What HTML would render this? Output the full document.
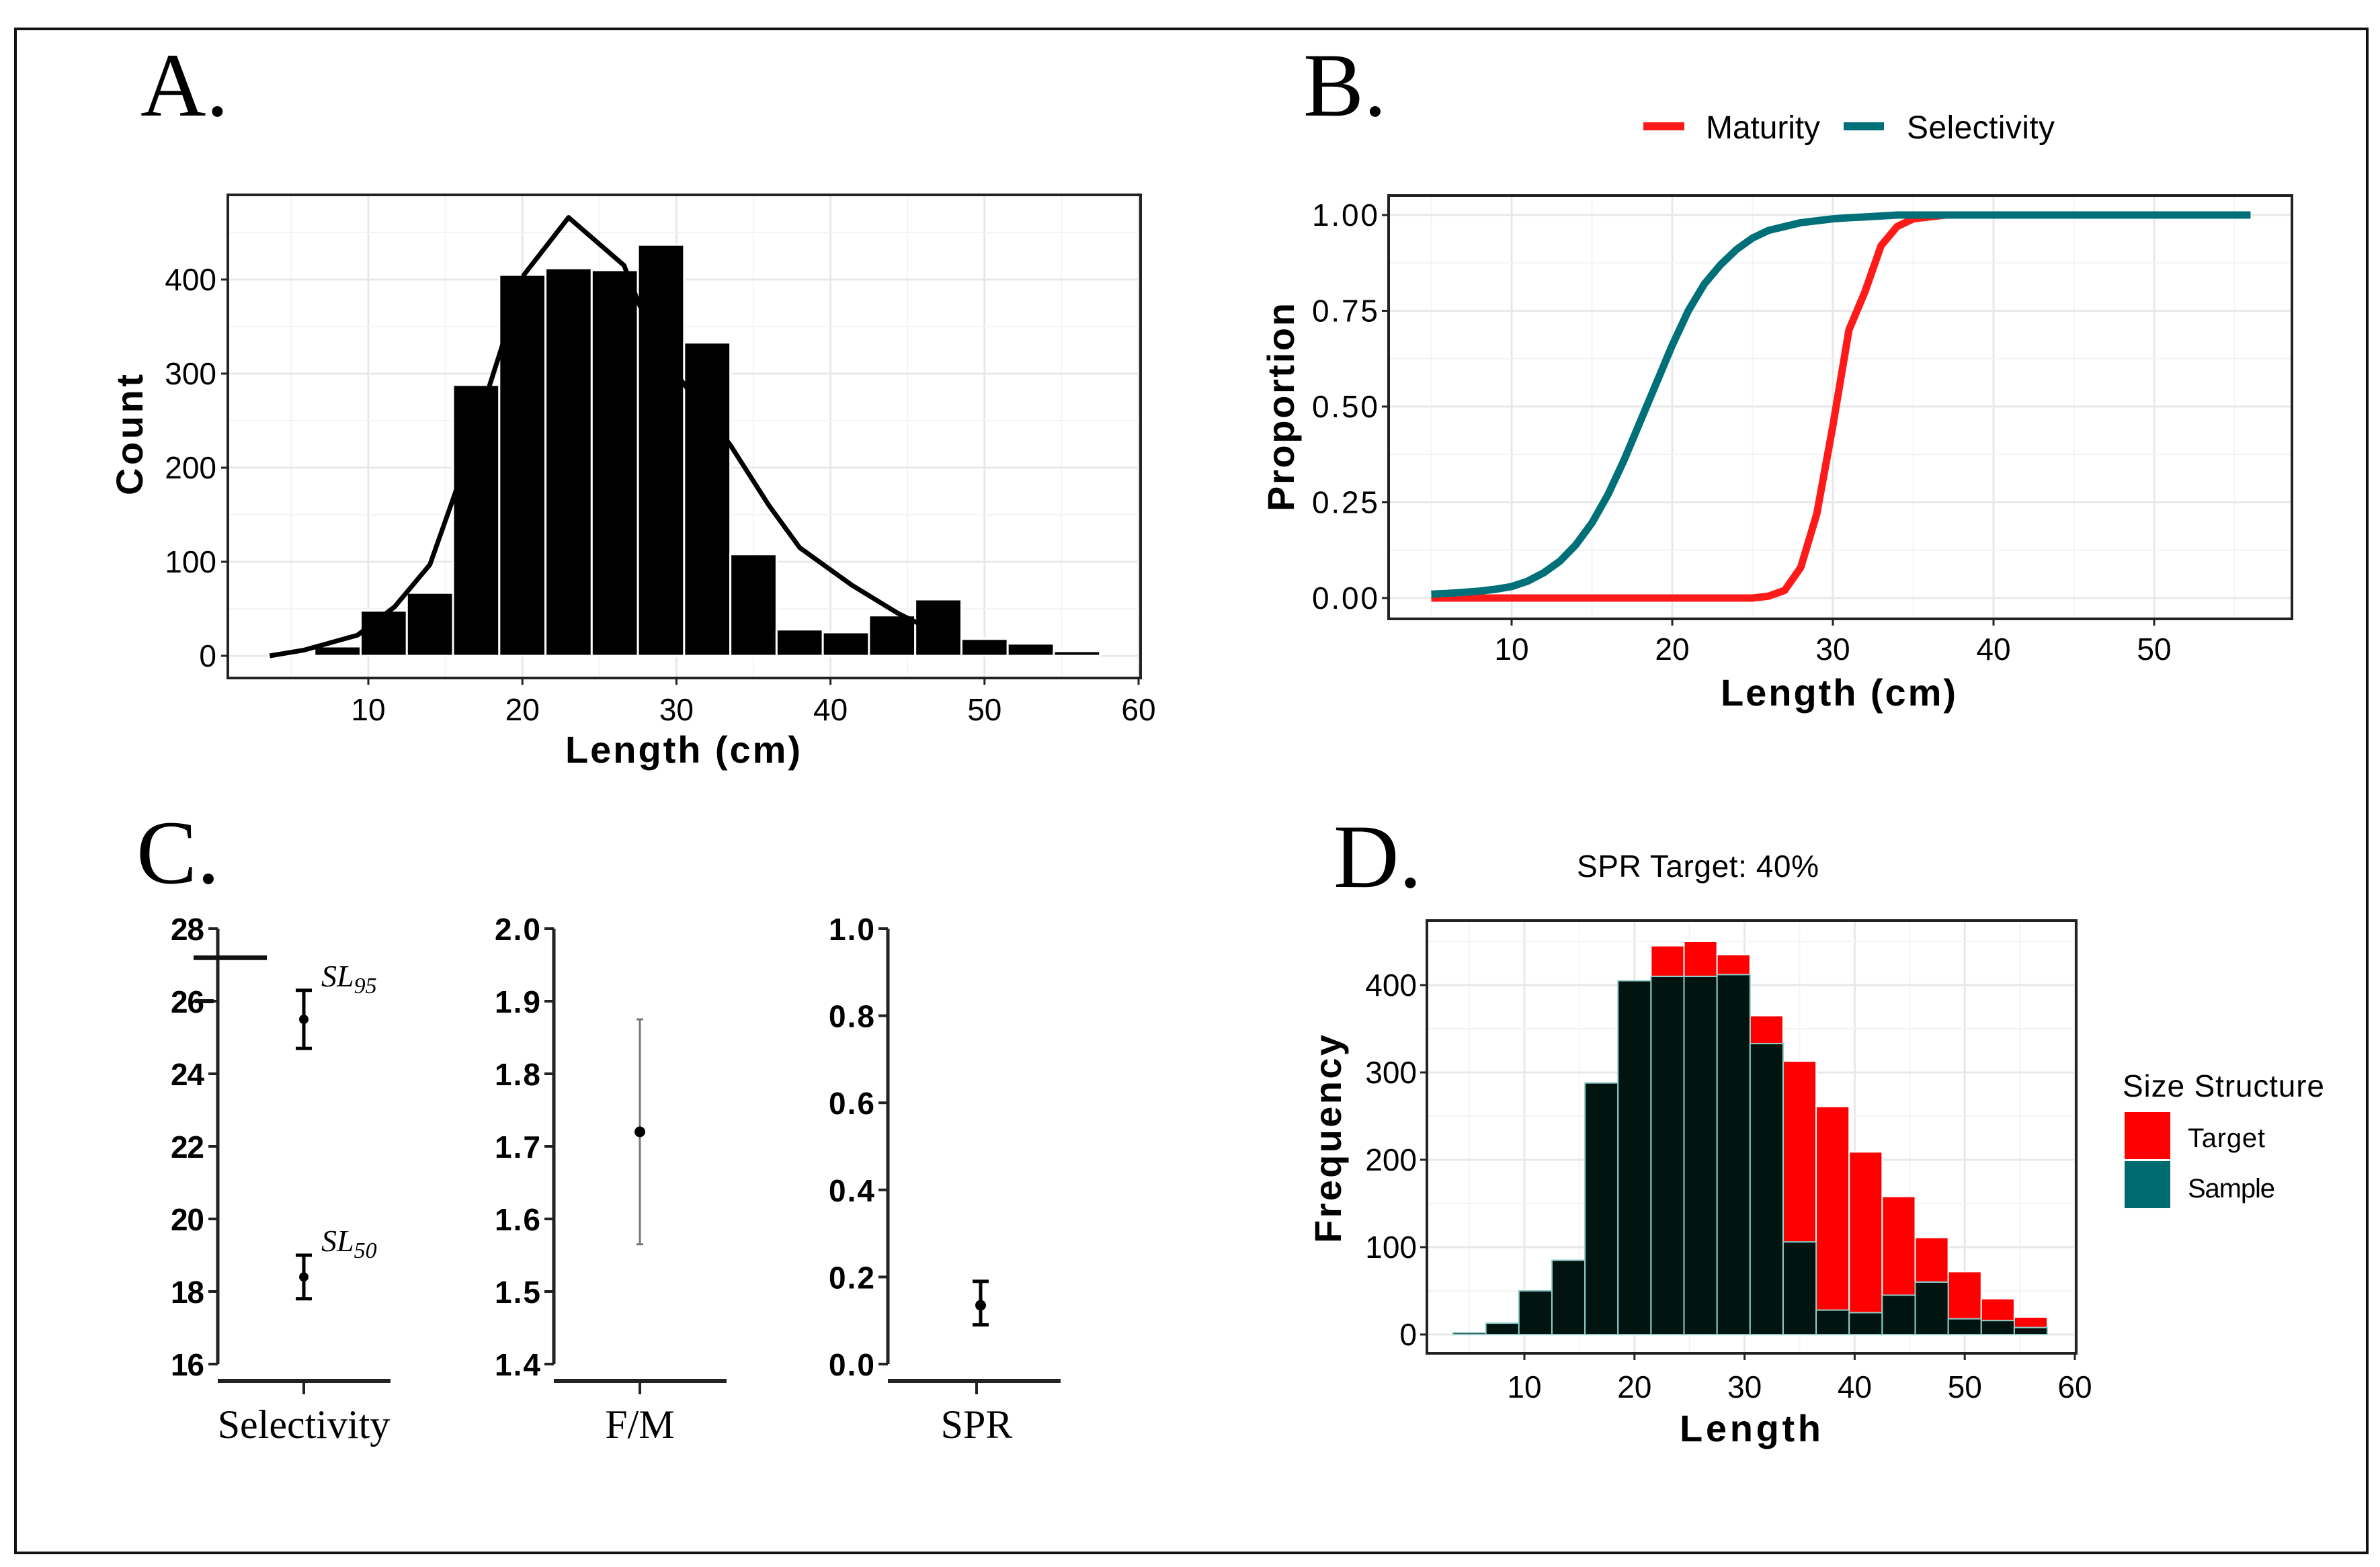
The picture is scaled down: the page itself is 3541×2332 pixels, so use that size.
<!DOCTYPE html>
<html><head><meta charset="utf-8">
<style>
html,body{margin:0;padding:0;background:#fff;}
svg{display:block;}
text{font-family:"Liberation Sans",sans-serif;}
.serif{font-family:"Liberation Serif",serif;}
</style></head>
<body>
<svg id="fig" xmlns="http://www.w3.org/2000/svg" width="3541" height="2332" viewBox="0 0 3541 2332">
<rect x="0" y="0" width="3541" height="2332" fill="#fff"/>
<rect x="23" y="43" width="3499" height="2268" fill="none" stroke="#111" stroke-width="4"/>
<g id="gA"></g>
<g id="gB"></g>
<g id="gC"></g>
<g id="gD"></g>
</svg>
<script>
// ---- Panel A data ----
const binCentersA = [5,8,11,14,17,20,23,26,29,32,35,38,41,44,47,50,53,56];
const countsA = [2,10,48,67,288,405,412,410,437,333,108,28,25,43,60,18,13,5];
const curveLenA = [3.6,5.8,9.3,11.7,14,15.7,18.7,20.1,23,26.6,27.6,30.3,33.5,36,38,41.4,44.4,45.9];
const curveValA = [0,6,22,52,97,176,330,405,466,415,373,293,224,160,115,75,45,33];
const xTicksA = [10,20,30,40,50,60];
const yTicksA = [0,100,200,300,400];
// ---- Panel B data ----
const lenSel = [5,6,7,8,9,10,11,12,13,14,15,16,17,18,19,20,21,22,23,24,25,26,27,28,29,30,31,32,34,40,45,50,56];
const valSel = [0.01,0.012,0.015,0.018,0.023,0.03,0.044,0.066,0.096,0.139,0.196,0.27,0.36,0.46,0.56,0.66,0.75,0.82,0.87,0.91,0.94,0.96,0.97,0.98,0.985,0.99,0.993,0.995,1,1,1,1,1];
const lenMat = [5,10,15,20,25,26,27,28,29,30,31,32,33,34,35,36,37];
const valMat = [0,0,0,0,0,0.005,0.02,0.08,0.22,0.45,0.70,0.80,0.92,0.97,0.99,0.995,1];
const xTicksB = [10,20,30,40,50];
const yTicksB = [0,0.25,0.5,0.75,1];
const yTickLabB = ["0.00","0.25","0.50","0.75","1.00"];
// ---- Panel C data ----
const slNames = ["SL95","SL50"];
const slEst = [25.5,18.4];
const slLo = [24.7,17.8];
const slHi = [26.3,19.0];
const selRefLine = 27.2;
const selTicks = [16,18,20,22,24,26,28];
const fmEst = [1.72]; const fmLo=[1.565]; const fmHi=[1.875];
const fmTicks = [1.4,1.5,1.6,1.7,1.8,1.9,2.0];
const sprEst = [0.135]; const sprLo=[0.09]; const sprHi=[0.19];
const sprTicks = [0,0.2,0.4,0.6,0.8,1.0];
// ---- Panel D data ----
const binCentersD = [5,8,11,14,17,20,23,26,29,32,35,38,41,44,47,50,53,56];
const sampleD = [2,13,50,85,288,405,410,410,412,333,106,28,25,45,60,18,16,8];
const targetD = [0,5,40,80,280,400,445,450,435,365,313,261,209,158,111,72,41,20];
const xTicksD = [10,20,30,40,50,60];
const yTicksD = [0,100,200,300,400];

const NS="http://www.w3.org/2000/svg";
function mk(parent,tag,attrs,txt){const e=document.createElementNS(NS,tag);for(const k in attrs)e.setAttribute(k,attrs[k]);if(txt!==undefined)e.textContent=txt;parent.appendChild(e);return e;}
function lin(d0,d1,r0,r1){return v=>r0+(v-d0)*(r1-r0)/(d1-d0);}

// ===== Panel A =====
(function(){
const g=document.getElementById('gA');
const X=lin(10,60,548,1694), Y=lin(0,400,976,416);
const L=339,R=1697,T=290,B=1009;
let t=mk(g,'text',{x:209,y:172,'font-size':135,class:'serif'},'A.');

for(let v=5;v<=60;v+=5){let l=mk(g,'line',{x1:X(v),x2:X(v),y1:T,y2:B,stroke:v%10?'#f4f4f4':'#e8e8e8','stroke-width':v%10?2:3});}
for(let v=0;v<=450;v+=50){if(Y(v)<T)continue;let l=mk(g,'line',{x1:L,x2:R,y1:Y(v),y2:Y(v),stroke:v%100?'#f4f4f4':'#e8e8e8','stroke-width':v%100?2:3});}
binCentersA.forEach((c,i)=>{let r=mk(g,'rect',{x:X(c-1.5),y:Y(countsA[i]),width:X(c+1.5)-X(c-1.5),height:Y(0)-Y(countsA[i]),fill:'#000',stroke:'#fff','stroke-width':3});});
let p=mk(g,'polyline',{points:curveLenA.map((v,i)=>X(v)+','+Y(curveValA[i])).join(' '),fill:'none',stroke:'#000','stroke-width':7,'stroke-linejoin':'round'});

let f=mk(g,'rect',{x:L,y:T,width:R-L,height:B-T,fill:'none',stroke:'#222','stroke-width':4});
xTicksA.forEach(v=>{mk(g,'line',{x1:X(v),x2:X(v),y1:B,y2:B+10,stroke:'#222','stroke-width':3});let s=mk(g,'text',{x:X(v),y:1072,'font-size':46,'text-anchor':'middle'},v);});
yTicksA.forEach(v=>{mk(g,'line',{x1:L-10,x2:L,y1:Y(v),y2:Y(v),stroke:'#222','stroke-width':3});let s=mk(g,'text',{x:322,y:Y(v)+16,'font-size':46,'text-anchor':'end'},v);});
let xt=mk(g,'text',{x:1016,y:1135,'font-size':56,'font-weight':'bold','text-anchor':'middle',textLength:350},'Length (cm)');
let yt=mk(g,'text',{x:0,y:0,'font-size':56,'font-weight':'bold','text-anchor':'middle',transform:'translate(212,647) rotate(-90)',textLength:180},'Count');
})();

// ===== Panel B =====
(function(){
const g=document.getElementById('gB');
const X=lin(10,50,2249,3205), Y=lin(0,1,890,320);
const L=2066,R=3410,T=291,B=921;
let t=mk(g,'text',{x:1939,y:172,'font-size':135,class:'serif'},'B.');
for(let v=5;v<=55;v+=5){if(X(v)>R)continue;let l=mk(g,'line',{x1:X(v),x2:X(v),y1:T,y2:B,stroke:v%10?'#f4f4f4':'#e8e8e8','stroke-width':v%10?2:3});}
for(let v=-0.125;v<=1.05;v+=0.125){if(Y(v)>B||Y(v)<T)continue;let major=Math.abs(v*4-Math.round(v*4))<1e-6;let l=mk(g,'line',{x1:L,x2:R,y1:Y(v),y2:Y(v),stroke:major?'#e8e8e8':'#f4f4f4','stroke-width':major?3:2});}
let m=mk(g,'polyline',{points:lenMat.map((v,i)=>X(v)+','+Y(valMat[i])).join(' '),fill:'none',stroke:'#ff1a1a','stroke-width':11,'stroke-linejoin':'round'});
let s=mk(g,'polyline',{points:lenSel.map((v,i)=>X(v)+','+Y(valSel[i])).join(' '),fill:'none',stroke:'#007078','stroke-width':11,'stroke-linejoin':'round'});
let f=mk(g,'rect',{x:L,y:T,width:R-L,height:B-T,fill:'none',stroke:'#222','stroke-width':4});
xTicksB.forEach(v=>{mk(g,'line',{x1:X(v),x2:X(v),y1:B,y2:B+10,stroke:'#222','stroke-width':3});let s=mk(g,'text',{x:X(v),y:982,'font-size':46,'text-anchor':'middle'},v);});
yTicksB.forEach((v,i)=>{mk(g,'line',{x1:L-10,x2:L,y1:Y(v),y2:Y(v),stroke:'#222','stroke-width':3});let s=mk(g,'text',{x:2050,y:Y(v)+16,'font-size':46,'text-anchor':'end',textLength:98},yTickLabB[i]);});
let xt=mk(g,'text',{x:2735,y:1050,'font-size':56,'font-weight':'bold','text-anchor':'middle',textLength:350},'Length (cm)');
let yt=mk(g,'text',{x:0,y:0,'font-size':56,'font-weight':'bold','text-anchor':'middle',transform:'translate(1925,606) rotate(-90)',textLength:310},'Proportion');
let l1=mk(g,'line',{x1:2445,x2:2506,y1:188,y2:188,stroke:'#ff1a1a','stroke-width':12});
let t1=mk(g,'text',{x:2538,y:206,'font-size':48,textLength:170},'Maturity');
let l2=mk(g,'line',{x1:2743,x2:2803,y1:188,y2:188,stroke:'#007078','stroke-width':12});
let t2=mk(g,'text',{x:2837,y:206,'font-size':48,textLength:220},'Selectivity');
})();

// ===== Panel C =====
(function(){
const g=document.getElementById('gC');
const T=1382,B=2030;
let t=mk(g,'text',{x:203,y:1314,'font-size':135,class:'serif'},'C.');
function sub(ax,ticks,lo,hi,ptX,label,name,labFmt){
  const Y=lin(lo,hi,B,T);
  let a=mk(g,'line',{x1:ax,x2:ax,y1:T,y2:B,stroke:'#222','stroke-width':5});
  ticks.forEach(v=>{mk(g,'line',{x1:ax-14,x2:ax,y1:Y(v),y2:Y(v),stroke:'#222','stroke-width':4});let s=mk(g,'text',{x:ax-20,y:Y(v)+17,'font-size':46,'text-anchor':'end','font-weight':'bold',textLength:labFmt(v).length>2?68:50},labFmt(v));});
  let b=mk(g,'line',{x1:ax,x2:ax+257,y1:2055,y2:2055,stroke:'#222','stroke-width':6});
  mk(g,'line',{x1:ptX,x2:ptX,y1:2055,y2:2075,stroke:'#222','stroke-width':4});
  let l=mk(g,'text',{x:ptX,y:2140,'font-size':60,'text-anchor':'middle',class:'serif'},label);
  return Y;
}
const Y1=sub(324,selTicks,16,28,452,'Selectivity','selectivity',v=>String(v));
let rl=mk(g,'line',{x1:288,x2:397,y1:Y1(selRefLine),y2:Y1(selRefLine),stroke:'#111','stroke-width':7});
mk(g,'line',{x1:290,x2:318,y1:Y1(26),y2:Y1(26),stroke:'#111','stroke-width':6});
slEst.forEach((v,i)=>{
  let e=mk(g,'path',{d:`M452 ${Y1(slLo[i])}V${Y1(slHi[i])}M440 ${Y1(slLo[i])}H464M440 ${Y1(slHi[i])}H464`,stroke:'#000','stroke-width':5,fill:'none'});
  let c=mk(g,'circle',{cx:452,cy:Y1(v),r:7,fill:'#000'});
  let tx=mk(g,'text',{x:478,y:Y1(slHi[i])-6,'font-size':46,'font-style':'italic',class:'serif'});
  mk(tx,'tspan',{},slNames[i].slice(0,2));mk(tx,'tspan',{'font-size':34,dy:10},slNames[i].slice(2));
});
const Y2=sub(824,fmTicks,1.4,2.0,952,'F/M','fm',v=>v.toFixed(1));
fmEst.forEach((v,i)=>{
  let e=mk(g,'path',{d:`M952 ${Y2(fmLo[i])}V${Y2(fmHi[i])}M947 ${Y2(fmLo[i])}H957M947 ${Y2(fmHi[i])}H957`,stroke:'#777','stroke-width':3,fill:'none'});
  let c=mk(g,'circle',{cx:952,cy:Y2(v),r:8,fill:'#000'});
});
const Y3=sub(1321,sprTicks,0,1,1453,'SPR','spr',v=>v.toFixed(1));
sprEst.forEach((v,i)=>{
  let e=mk(g,'path',{d:`M1459 ${Y3(sprLo[i])}V${Y3(sprHi[i])}M1447 ${Y3(sprLo[i])}H1471M1447 ${Y3(sprHi[i])}H1471`,stroke:'#000','stroke-width':5,fill:'none'});
  let c=mk(g,'circle',{cx:1459,cy:Y3(v),r:8,fill:'#000'});
});
})();

// ===== Panel D =====
(function(){
const g=document.getElementById('gD');
const X=lin(10,60,2268,3087), Y=lin(0,400,1986,1466);
const L=2123,R=3089,T=1370,B=2014;
let t=mk(g,'text',{x:1984,y:1320,'font-size':135,class:'serif'},'D.');
let tt=mk(g,'text',{x:2526,y:1305,'font-size':46,'text-anchor':'middle',textLength:360},'SPR Target: 40%');
for(let v=5;v<=60;v+=5){let l=mk(g,'line',{x1:X(v),x2:X(v),y1:T,y2:B,stroke:v%10?'#f4f4f4':'#e8e8e8','stroke-width':v%10?2:3});}
for(let v=0;v<=450;v+=50){let l=mk(g,'line',{x1:L,x2:R,y1:Y(v),y2:Y(v),stroke:v%100?'#f4f4f4':'#e8e8e8','stroke-width':v%100?2:3});}
binCentersD.forEach((c,i)=>{let r=mk(g,'rect',{x:X(c-1.5),y:Y(targetD[i]),width:X(c+1.5)-X(c-1.5),height:Y(0)-Y(targetD[i]),fill:'#ff0000',stroke:'#fff','stroke-width':2});});
binCentersD.forEach((c,i)=>{let r=mk(g,'rect',{x:X(c-1.5),y:Y(sampleD[i]),width:X(c+1.5)-X(c-1.5),height:Y(0)-Y(sampleD[i]),fill:'#02140f',stroke:'#8fd0cc','stroke-width':2});});
let f=mk(g,'rect',{x:L,y:T,width:R-L,height:B-T,fill:'none',stroke:'#222','stroke-width':4});
xTicksD.forEach(v=>{mk(g,'line',{x1:X(v),x2:X(v),y1:B,y2:B+10,stroke:'#222','stroke-width':3});let s=mk(g,'text',{x:X(v),y:2080,'font-size':46,'text-anchor':'middle'},v);});
yTicksD.forEach(v=>{mk(g,'line',{x1:L-10,x2:L,y1:Y(v),y2:Y(v),stroke:'#222','stroke-width':3});let s=mk(g,'text',{x:2108,y:Y(v)+16,'font-size':46,'text-anchor':'end'},v);});
let xt=mk(g,'text',{x:2604,y:2145,'font-size':56,'font-weight':'bold','text-anchor':'middle',textLength:210},'Length');
let yt=mk(g,'text',{x:0,y:0,'font-size':56,'font-weight':'bold','text-anchor':'middle',transform:'translate(1995,1695) rotate(-90)',textLength:310},'Frequency');
let lt=mk(g,'text',{x:3158,y:1632,'font-size':46,textLength:300},'Size Structure');
let r1=mk(g,'rect',{x:3161,y:1655,width:68,height:70,fill:'#ff0000'});
let r2=mk(g,'rect',{x:3161,y:1728,width:68,height:70,fill:'#006b70'});
let a=mk(g,'text',{x:3255,y:1707,'font-size':40,textLength:115},'Target');
let b=mk(g,'text',{x:3255,y:1782,'font-size':40,textLength:130},'Sample');
})();
</script>
</body></html>
